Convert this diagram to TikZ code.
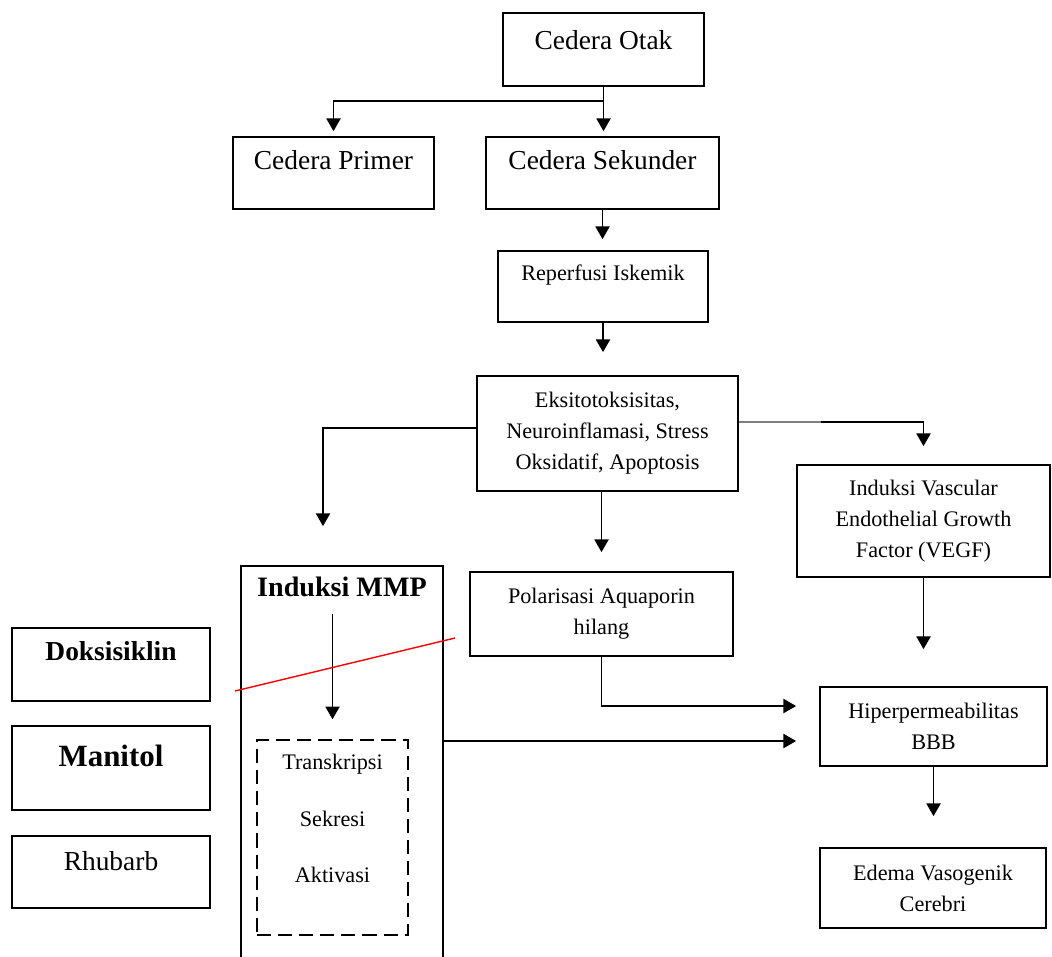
\documentclass[tikz,border=0pt]{standalone}
\usepackage{fontspec}
\setmainfont{Liberation Serif}
\usepackage{tikz}
\usetikzlibrary{arrows.meta, positioning, calc}
\newcommand{\bigtxt}{\fontsize{19.5}{23}\selectfont}
\newcommand{\smalltxt}{\fontsize{15.8}{22}\selectfont}

\begin{document}
\begin{tikzpicture}[
    x=0.025cm, y=-0.025cm,
    box/.style={rectangle, draw=black, line width=1.2pt, align=center, inner sep=2pt},
    big/.style={font=\bigtxt},
    small/.style={font=\smalltxt},
    arrow/.style={line width=1.2pt, ->, >={Triangle[width=10pt,length=9pt]}}
]
    \useasboundingbox (0,0) rectangle (1052,956);

    \node[box, big, minimum width=5.025cm, minimum height=1.825cm, text depth=0.48cm] (otak) at (603.5,49.5) {Cedera Otak};
    \node[box, big, minimum width=5.025cm, minimum height=1.8cm, text depth=0.65cm] (primer) at (333.5,173) {Cedera Primer};
    \node[box, big, minimum width=5.825cm, minimum height=1.8cm, text depth=0.65cm] (sek) at (602.5,173) {Cedera Sekunder};
    \node[box, small, minimum width=5.25cm, minimum height=1.775cm, text depth=0.675cm] (rep) at (603,286.5) {Reperfusi Iskemik};
    \node[box, small, minimum width=6.525cm, minimum height=2.875cm] (eks) at (607.5,433.5) {Eksitotoksisitas,\\ Neuroinflamasi, Stress\\ Oksidatif, Apoptosis};
    \node[box, small, minimum width=6.325cm, minimum height=2.8cm] (vegf) at (923.5,521) {Induksi Vascular\\ Endothelial Growth\\ Factor (VEGF)};
    \node[box, small, minimum width=6.575cm, minimum height=2.1cm] (pol) at (601.5,614) {Polarisasi Aquaporin\\ hilang};
    \node[box, small, minimum width=5.675cm, minimum height=1.975cm] (hiper) at (933.5,726.5) {Hiperpermeabilitas\\ BBB};
    \node[box, small, minimum width=5.65cm, minimum height=2cm] (edema) at (933,888) {Edema Vasogenik\\ Cerebri};

    \node[box, minimum width=5.05cm, minimum height=10.85cm,
          label={[name=mmpt, anchor=north, yshift=-0.175cm, font=\bfseries\fontsize{20}{24}\selectfont]north:Induksi MMP}] (mmp) at (342,783) {};
    \node[box, small, line width=1pt, dash pattern=on 10pt off 5pt, minimum width=3.775cm, minimum height=4.875cm, text depth=0.95cm] (trans) at (332.5,837.5) {Transkripsi\\[18pt] Sekresi\\[18pt] Aktivasi};

    \node[box, font=\bfseries\fontsize{19.5}{23}\selectfont, minimum width=4.95cm, minimum height=1.825cm, text depth=0.675cm] (doks) at (111,664.5) {Doksisiklin};
    \node[box, line width=1.8pt, font=\bfseries\fontsize{22}{26}\selectfont, minimum width=4.95cm, minimum height=2.1cm, text depth=0.6cm] (manitol) at (111,768) {Manitol};
    \node[box, big, minimum width=4.95cm, minimum height=1.8cm, text depth=0.55cm] (rhubarb) at (111,872) {Rhubarb};

    \draw[arrow, shorten >=0.125cm] (otak.south) -- (otak.south |- sek.north);
    \draw[arrow, shorten >=0.125cm] (otak.south) -- ++(0,14) -| (primer.north);
    \draw[arrow, shorten >=0.275cm] (sek.south) -- (sek.south |- rep.north);
    \draw[arrow, shorten >=0.575cm] (rep.south) -- (rep.south |- eks.north);
    \draw[arrow, shorten >=0.975cm] ([yshift=0.14cm]eks.west) -| ([xshift=-0.475cm]mmp.north);
    \draw[arrow, shorten >=0.475cm] (pol.north |- eks.south) -- (pol.north);
    \draw[arrow, shorten >=0.45cm] ([yshift=0.29cm]eks.east) -| (vegf.north);
    \draw[gray, line width=1.2pt] ([yshift=0.29cm]eks.east) -- ++(82,0);
    \draw[arrow, shorten >=0.925cm] (vegf.south) -- (vegf.south |- hiper.north);
    \coordinate (hinA) at ($(hiper.west)+(-23,-20.5)$);
    \coordinate (hinB) at ($(hiper.west)+(-23,14.5)$);
    \draw[arrow] (pol.south) |- (hinA);
    \draw[arrow] (mmp.east |- hinB) -- (hinB);
    \draw[arrow, shorten >=0.775cm] (hiper.south) -- (hiper.south |- edema.north);
    \draw[arrow, shorten <=0.3cm, shorten >=0.5cm] (trans.north |- mmpt.south) -- (trans.north);

    \draw[red, line width=1pt] (235,691) -- (455,638);
\end{tikzpicture}
\end{document}
